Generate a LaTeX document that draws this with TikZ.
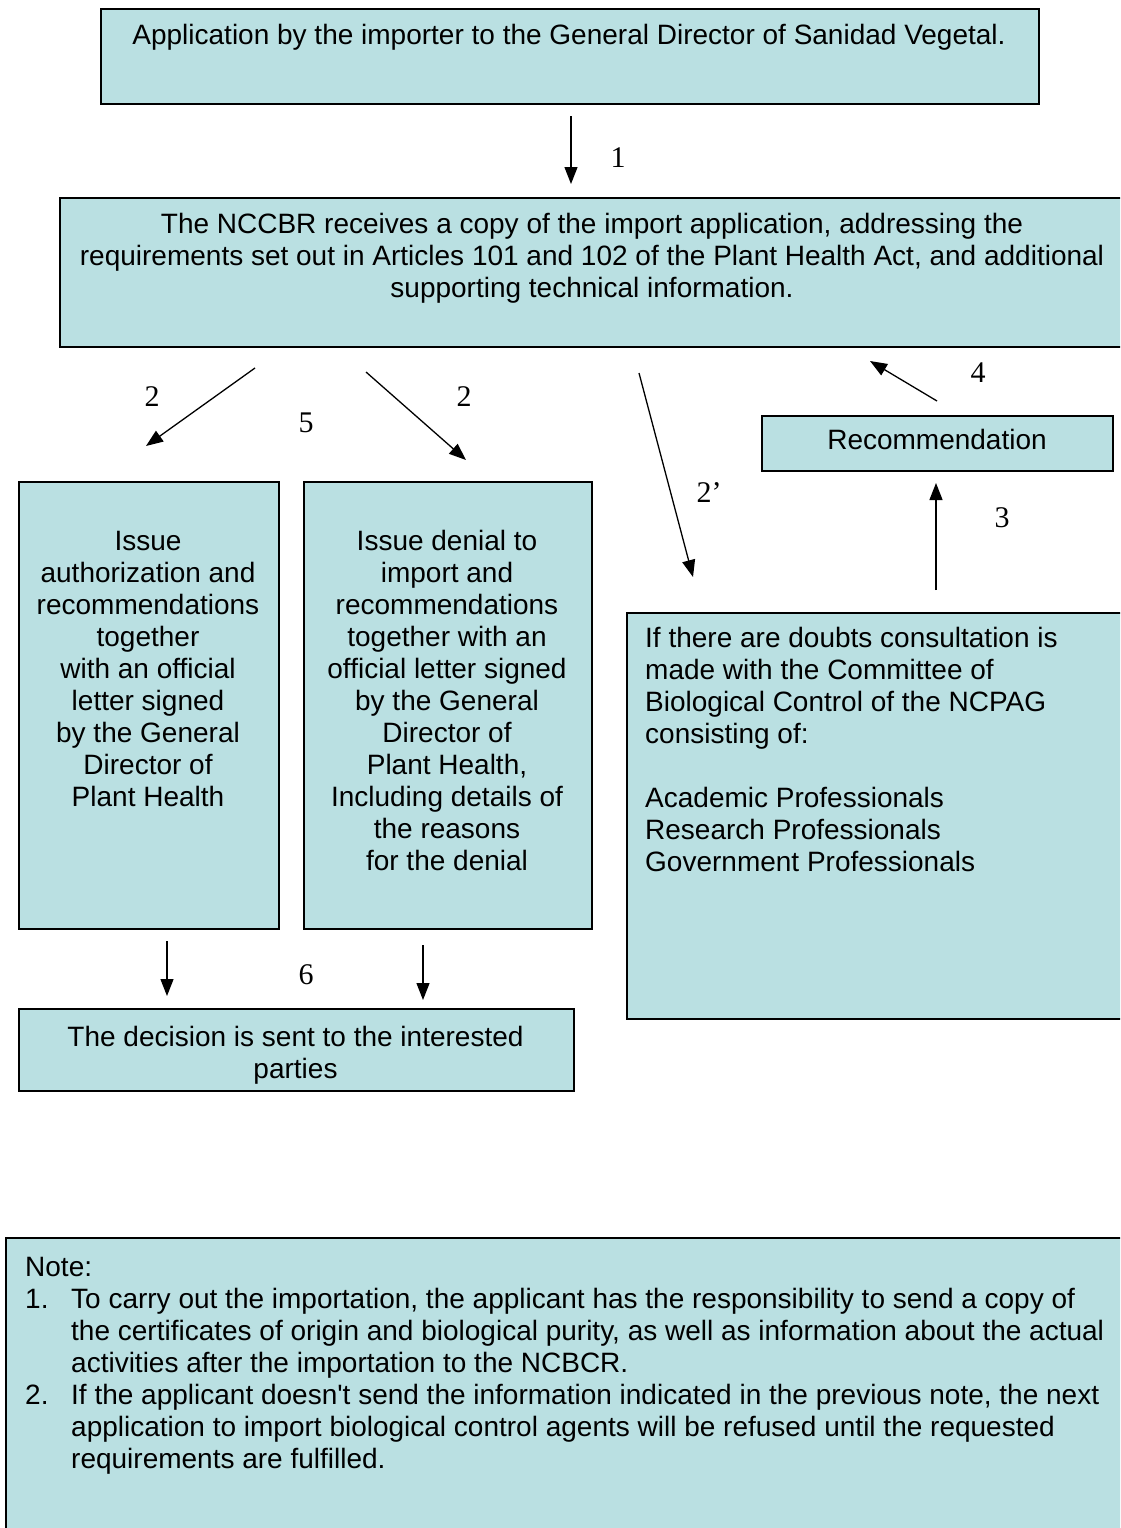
\documentclass[tikz,border=0pt]{standalone}
\usepackage{fontspec}
\setmainfont{Liberation Sans}
\newfontfamily\numfont{Liberation Serif}
\usetikzlibrary{arrows.meta}
\definecolor{boxfill}{RGB}{186,224,226}
\begin{document}
\begin{tikzpicture}[x=1pt,y=-1pt,
  box/.style={draw=black, fill=boxfill, line width=1.6pt, rectangle, inner sep=0pt, anchor=north west},
  txt/.style={inner sep=0pt, font=\fontsize{28}{32}\selectfont, align=center, anchor=north},
  ltxt/.style={inner sep=0pt, font=\fontsize{28}{32}\selectfont, align=left, anchor=north west},
  num/.style={inner sep=0pt, font=\numfont\fontsize{30}{36}\selectfont},
  arr/.style={line width=1.3pt, -{Triangle[length=17pt,width=13pt]}}]
\useasboundingbox (0,0) rectangle (1120,1528);
\fill[white] (0,0) rectangle (1120,1528);
\clip (0,0) rectangle (1120,1528);
% boxes
\node[box, minimum width=938pt, minimum height=95pt] (app) at (100,8) {};
\node[box, minimum width=1071pt, minimum height=149pt] (ncc) at (59,197) {};
\node[box, minimum width=351pt, minimum height=55pt] (rec) at (761,415) {};
\node[box, minimum width=260pt, minimum height=447pt] (auth) at (18,481) {};
\node[box, minimum width=288pt, minimum height=447pt] (deny) at (303,481) {};
\node[box, minimum width=504pt, minimum height=406pt] (comm) at (626,612) {};
\node[box, minimum width=555pt, minimum height=82pt] (dec) at (18,1008) {};
\node[box, minimum width=1125pt, minimum height=310pt] (note) at (5,1237) {};
% texts
\node[txt] (appt) at (569,22.3) {\strut Application by the importer to the General Director of Sanidad Vegetal.};
\node[txt] (ncct) at (592,211.3) {\strut The NCCBR receives a copy of the import application, addressing the\\requirements set out in Articles 101 and 102 of the Plant Health Act, and additional\\supporting technical information.};
\node[txt] (rect) at (937,427.3) {\strut Recommendation};
\node[txt] (autht) at (148,528.3) {\strut Issue\\authorization and\\recommendations\\together\\with an official\\letter signed\\by the General\\Director of\\Plant Health};
\node[txt] (denyt) at (447,528.3) {\strut Issue denial to\\import and\\recommendations\\together with an\\official letter signed\\by the General\\Director of\\Plant Health,\\Including details of\\the reasons\\for the denial};
\node[ltxt] (commt) at (645,625.3) {\strut If there are doubts consultation is\\made with the Committee of\\Biological Control of the NCPAG\\consisting of:\\\mbox{}\\Academic Professionals\\Research Professionals\\Government Professionals};
\node[txt] (dect) at (295.5,1024.3) {\strut The decision is sent to the interested\\parties};
\node[ltxt] (notet) at (25,1254.3) {\strut Note:\\\makebox[46pt][l]{1.}To carry out the importation, the applicant has the responsibility to send a copy of\\\hspace*{46pt}the certificates of origin and biological purity, as well as information about the actual\\\hspace*{46pt}activities after the importation to the NCBCR.\\\makebox[46pt][l]{2.}If the applicant doesn\textquotesingle t send the information indicated in the previous note, the next\\\hspace*{46pt}application to import biological control agents will be refused until the requested\\\hspace*{46pt}requirements are fulfilled.};
% arrow end points
\coordinate (a1s) at (571,116); \coordinate (a1e) at (571,184);
\coordinate (a2ls) at (255,368); \coordinate (a2le) at (146,446);
\coordinate (a2rs) at (366,372); \coordinate (a2re) at (466,460);
\coordinate (a2ps) at (639,373); \coordinate (a2pe) at (693,577);
\coordinate (a4s) at (937,401); \coordinate (a4e) at (870,361);
\coordinate (a3s) at (936,590); \coordinate (a3e) at (936,483);
\coordinate (a6ls) at (167,941); \coordinate (a6le) at (167,996);
\coordinate (a6rs) at (423,945); \coordinate (a6re) at (423,1000);
\draw[arr] (a1s) -- (a1e);
\draw[arr] (a2ls) -- (a2le);
\draw[arr] (a2rs) -- (a2re);
\draw[arr] (a2ps) -- (a2pe);
\draw[arr] (a4s) -- (a4e);
\draw[arr] (a3s) -- (a3e);
\draw[arr] (a6ls) -- (a6le);
\draw[arr] (a6rs) -- (a6re);
% labels
\node[num] (n1) at (618,158) {1};
\node[num] (n2l) at (152,397) {2};
\node[num] (n5) at (306,423) {5};
\node[num] (n2r) at (464,397) {2};
\node[num] (n2p) at (709,493) {2’};
\node[num] (n4) at (978,373) {4};
\node[num] (n3) at (1002,518) {3};
\node[num] (n6) at (306,975) {6};
\end{tikzpicture}
\end{document}
